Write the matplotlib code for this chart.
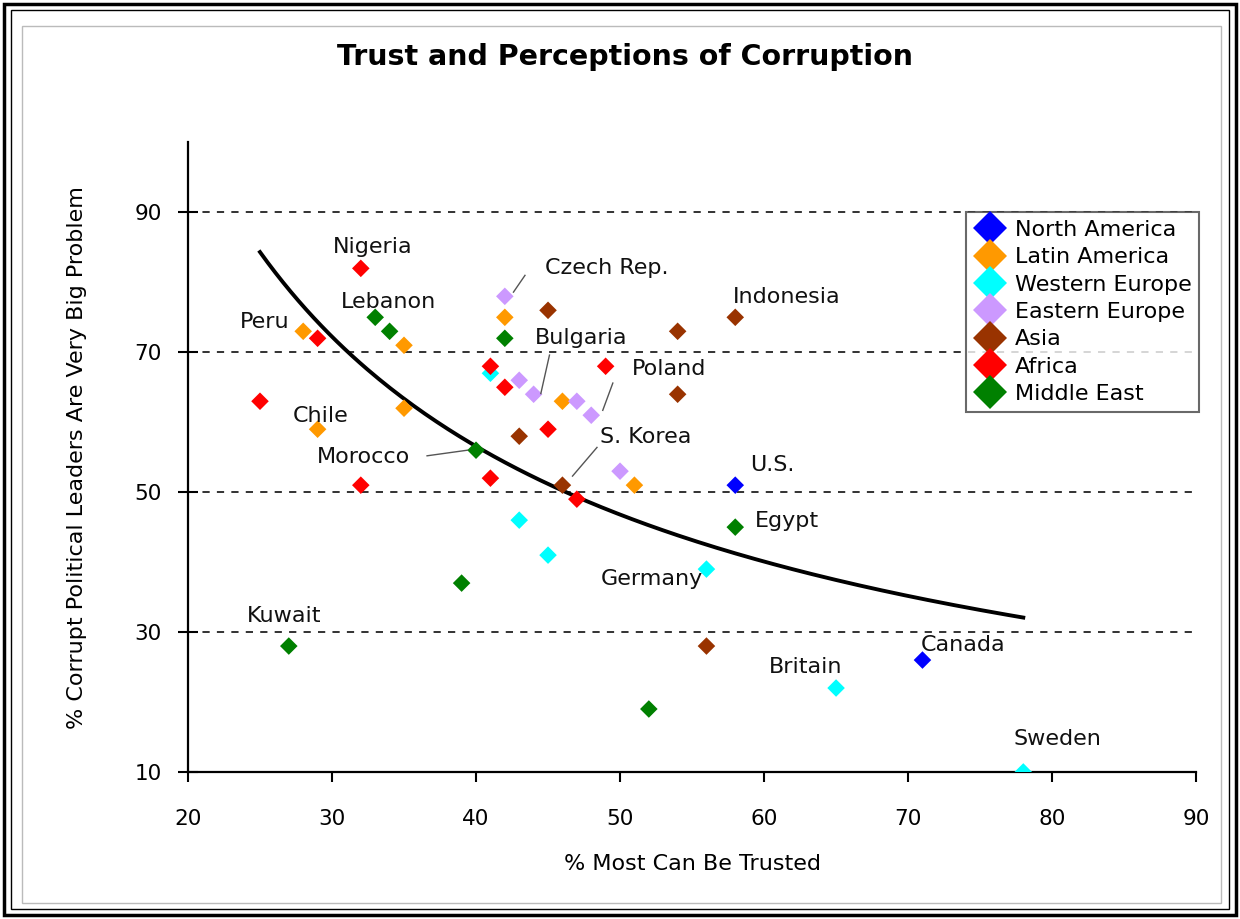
import numpy as np
import matplotlib
matplotlib.use("Agg")
import matplotlib.pyplot as plt
from matplotlib.patches import Rectangle
from matplotlib import font_manager

# ---------------- data ----------------
regions = ["North America", "Latin America", "Western Europe", "Eastern Europe",
           "Asia", "Africa", "Middle East"]
colors = ["#0000FF", "#FF9900", "#00FFFF", "#CC99FF", "#993300", "#FF0000", "#008000"]

na_x = [58, 71]
na_y = [51, 26]
la_x = [28, 35, 35, 29, 42, 46, 51]
la_y = [73, 71, 62, 59, 75, 63, 51]
we_x = [41, 43, 45, 56, 65, 78]
we_y = [67, 46, 41, 39, 22, 10]
ee_x = [42, 43, 44, 47, 48, 50]
ee_y = [78, 66, 64, 63, 61, 53]
as_x = [45, 54, 58, 54, 43, 46, 56]
as_y = [76, 73, 75, 64, 58, 51, 28]
af_x = [32, 29, 25, 32, 41, 42, 49, 45, 41, 47]
af_y = [82, 72, 63, 51, 68, 65, 68, 59, 52, 49]
me_x = [33, 34, 40, 42, 58, 39, 27, 52]
me_y = [75, 73, 56, 72, 45, 37, 28, 19]

series_x = [na_x, la_x, we_x, ee_x, as_x, af_x, me_x]
series_y = [na_y, la_y, we_y, ee_y, as_y, af_y, me_y]

# country labels: text, text position (data coords)
label_names = ["Nigeria", "Lebanon", "Peru", "Chile", "Indonesia", "U.S.",
               "Egypt", "Germany", "Kuwait", "Canada", "Britain", "Sweden",
               "Czech Rep.", "Bulgaria", "Poland", "S. Korea", "Morocco"]
label_x = [32.8, 33.9, 25.3, 29.2, 61.6, 60.6, 61.6, 52.2, 26.7, 73.8, 62.9, 80.4,
           49.1, 47.3, 53.4, 51.8, 32.2]
label_y = [85.0, 77.2, 74.4, 60.9, 77.9, 53.9, 45.9, 37.6, 32.3, 28.1, 25.0, 14.7,
           82.1, 72.1, 67.6, 57.9, 55.0]

# leader lines: (x0, y0) -> (x1, y1)
lead_x0 = [42.6, 45.1, 49.5, 48.4, 36.6]
lead_y0 = [78.6, 69.6, 65.6, 56.4, 55.2]
lead_x1 = [43.4, 44.5, 48.8, 46.7, 39.4]
lead_y1 = [81.0, 64.1, 61.7, 52.3, 56.0]

avail = {f.name for f in font_manager.fontManager.ttflist}
narrow = "Liberation Sans Narrow" if "Liberation Sans Narrow" in avail else None

# ---------------- figure ----------------
fig = plt.figure(figsize=(12.4, 9.19), dpi=100)
fig.patch.set_facecolor("white")

# frame borders
fig.add_artist(Rectangle((0.003, 0.004), 0.994, 0.992, transform=fig.transFigure,
                         fill=False, edgecolor="black", linewidth=2.5))
fig.add_artist(Rectangle((0.009, 0.011), 0.982, 0.978, transform=fig.transFigure,
                         fill=False, edgecolor="black", linewidth=1.0))
fig.add_artist(Rectangle((0.018, 0.017), 0.967, 0.955, transform=fig.transFigure,
                         fill=False, edgecolor="#BBBBBB", linewidth=1.0))

ax = fig.add_axes([0.1516, 0.160, 0.813, 0.685])

for rx, ry, c in zip(series_x, series_y, colors):
    ax.scatter(rx, ry, marker="D", s=80, color=c, edgecolors="none", zorder=4)

# power trend line (Excel-style) over the data range
all_x = np.concatenate([np.array(v, float) for v in series_x])
all_y = np.concatenate([np.array(v, float) for v in series_y])
b, ln_a = np.polyfit(np.log(all_x), np.log(all_y), 1)
tx = np.linspace(all_x.min(), all_x.max(), 200)
ty = np.exp(ln_a) * tx ** b
ax.plot(tx, ty, color="black", linewidth=2.8, zorder=3)

lab_fs = 16
# labels
for name, lx, ly in zip(label_names, label_x, label_y):
    ax.text(lx, ly, name, fontsize=lab_fs, ha="center", va="center",
            color="#111111", zorder=5)
for x0, y0, x1, y1 in zip(lead_x0, lead_y0, lead_x1, lead_y1):
    ax.plot([x0, x1], [y0, y1], color="#555555", linewidth=1.0, zorder=5)

ax.set_xlim(20, 90)
ax.set_ylim(10, 100)
ax.set_xticks([20, 30, 40, 50, 60, 70, 80, 90])
ax.set_yticks([10, 30, 50, 70, 90])
for gy in [30, 50, 70, 90]:
    ax.axhline(gy, color="#222222", linestyle=(0, (4, 4)), linewidth=1.3, zorder=1)

for s in ["top", "right"]:
    ax.spines[s].set_visible(False)
for s in ["left", "bottom"]:
    ax.spines[s].set_linewidth(1.6)
ax.tick_params(axis="x", direction="out", length=7, width=1.5, labelsize=15.5, pad=20)
ax.tick_params(axis="y", direction="inout", length=14, width=1.5, labelsize=15.5, pad=12)

ax.set_xlabel("% Most Can Be Trusted", fontsize=16, labelpad=18)
if narrow:
    ax.set_ylabel("% Corrupt Political Leaders Are Very Big Problem", fontsize=18.5,
                  family=narrow, labelpad=34)
    fig.text(0.504, 0.938, "Trust and Perceptions of Corruption", fontsize=24,
             fontweight="bold", family=narrow, ha="center", va="center")
else:
    ax.set_ylabel("% Corrupt Political Leaders Are Very Big Problem", fontsize=16,
                  labelpad=34)
    fig.text(0.504, 0.938, "Trust and Perceptions of Corruption", fontsize=20.5,
             fontweight="bold", ha="center", va="center")

handles = [plt.Line2D([], [], marker="D", linestyle="none", color=c,
                      markersize=17, markeredgewidth=0) for c in colors]
leg = ax.legend(handles, regions, loc="upper right", bbox_to_anchor=(1.003, 0.889),
                fontsize=16, frameon=True, fancybox=False, handlelength=1.5,
                handletextpad=0.35, labelspacing=0.33, borderpad=0.35,
                borderaxespad=0.0)
leg.get_frame().set_edgecolor("#444444")
leg.get_frame().set_linewidth(1.5)

fig.savefig("out.png", dpi=100)
